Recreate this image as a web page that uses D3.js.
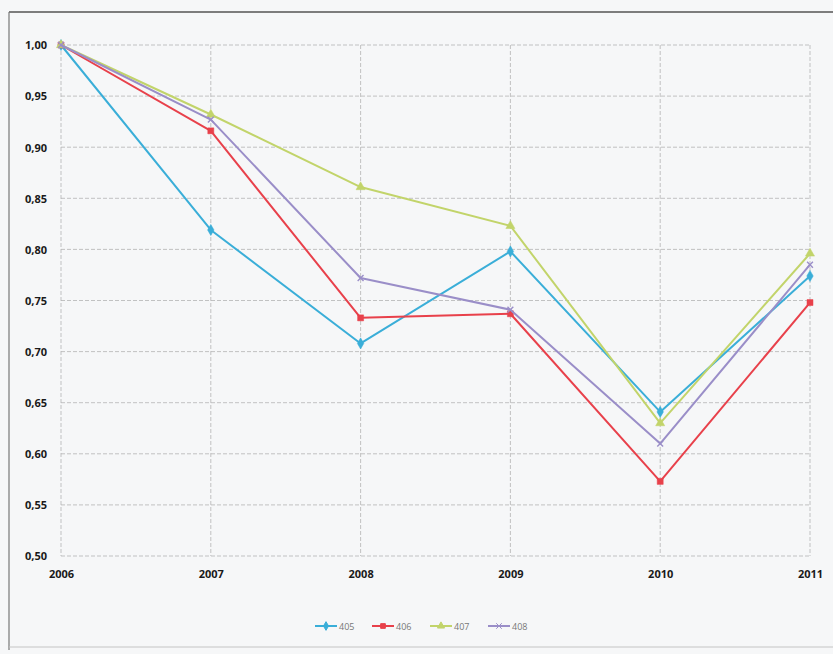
<!DOCTYPE html>
<html>
<head>
<meta charset="utf-8">
<script src="https://cdn.jsdelivr.net/npm/d3@7"></script>
<style>
  html, body { margin: 0; padding: 0; background: #f6f7f8; }
  svg { display: block; }
  .tick-label { font-family: "Open Sans", "DejaVu Sans", sans-serif; font-weight: 700; font-size: 11px; fill: #1a1a1a; }
  .legend-label { font-family: "Open Sans", "DejaVu Sans", sans-serif; font-size: 9px; fill: #777; }
</style>
</head>
<body>
<svg id="chart" width="833" height="654"></svg>
<script>
// Years along the x axis
const years = [2006, 2007, 2008, 2009, 2010, 2011];
// Y axis tick values and their labels (comma decimal)
const yTicks = [0.50, 0.55, 0.60, 0.65, 0.70, 0.75, 0.80, 0.85, 0.90, 0.95, 1.00];
const yTickLabels = ["0,50", "0,55", "0,60", "0,65", "0,70", "0,75", "0,80", "0,85", "0,90", "0,95", "1,00"];

// Series names and indexed values (2006 = 1)
const seriesNames = ["405", "406", "407", "408"];
const s405 = [1.000, 0.819, 0.708, 0.798, 0.641, 0.774];
const s406 = [1.000, 0.916, 0.733, 0.737, 0.573, 0.748];
const s407 = [1.000, 0.932, 0.861, 0.823, 0.630, 0.796];
const s408 = [1.000, 0.927, 0.772, 0.741, 0.610, 0.785];

const seriesColors = ["#3aaed8", "#e8414b", "#c2d46a", "#9a8ec8"];
const seriesShapes = [d3.symbolDiamond, d3.symbolSquare, d3.symbolTriangle, d3.symbolX];

const series = [s405, s406, s407, s408].map((vals, i) => ({
  name: seriesNames[i],
  color: seriesColors[i],
  shape: seriesShapes[i],
  points: years.map((y, j) => ({ year: y, value: vals[j] }))
}));

const svg = d3.select("#chart");

// Outer frame of the chart
svg.append("line").attr("x1", 9).attr("x2", 833).attr("y1", 12).attr("y2", 12)
  .attr("stroke", "#555").attr("stroke-width", 1.5);
svg.append("line").attr("x1", 9).attr("x2", 9).attr("y1", 12).attr("y2", 650)
  .attr("stroke", "#777").attr("stroke-width", 1.2);
svg.append("line").attr("x1", 9).attr("x2", 833).attr("y1", 647).attr("y2", 647)
  .attr("stroke", "#c4c4c4").attr("stroke-width", 1);

const x = d3.scaleLinear().domain([2006, 2011]).range([61, 810]);
const y = d3.scaleLinear().domain([0.5, 1.0]).range([556, 45]);

// Gridlines
const grid = svg.append("g");
grid.selectAll("line.h").data(yTicks).join("line")
  .attr("class", "h")
  .attr("x1", x(2006)).attr("x2", x(2011))
  .attr("y1", d => y(d)).attr("y2", d => y(d))
  .attr("stroke", "#b4b4b4").attr("stroke-width", 0.8)
  .attr("stroke-dasharray", "4,2");
grid.selectAll("line.v").data(years).join("line")
  .attr("class", "v")
  .attr("x1", d => x(d)).attr("x2", d => x(d))
  .attr("y1", y(1.0)).attr("y2", y(0.5))
  .attr("stroke", "#b4b4b4").attr("stroke-width", 0.8)
  .attr("stroke-dasharray", "4,2");

// Y axis labels
const yAxis = d3.axisLeft(y).tickValues(yTicks)
  .tickFormat((d, i) => yTickLabels[i]).tickSize(0).tickPadding(14);
const yG = svg.append("g").attr("transform", `translate(${x(2006)},0)`).call(yAxis);
yG.select(".domain").remove();
yG.selectAll("text").attr("class", "tick-label").attr("dy", "0.35em");

// X axis labels
const xAxis = d3.axisBottom(x).tickValues(years).tickFormat(d3.format("d"))
  .tickSize(0).tickPadding(14);
const xG = svg.append("g").attr("transform", `translate(0,${y(0.5)})`).call(xAxis);
xG.select(".domain").remove();
xG.selectAll("text").attr("class", "tick-label");

// Lines and markers
const line = d3.line().x(d => x(d.year)).y(d => y(d.value));
const sg = svg.append("g").selectAll("g").data(series).join("g");
sg.append("path")
  .attr("d", d => line(d.points))
  .attr("fill", "none")
  .attr("stroke", d => d.color)
  .attr("stroke-width", 2)
  .attr("stroke-linejoin", "round");
sg.each(function(s) {
  d3.select(this).selectAll("path.m").data(s.points).join("path")
    .attr("class", "m")
    .attr("transform", d => `translate(${x(d.year)},${y(d.value)})`)
    .attr("d", d3.symbol().type(s.shape).size(s.shape === d3.symbolX ? 24 : 36))
    .attr("fill", s.shape === d3.symbolX ? "none" : s.color)
    .attr("stroke", s.color)
    .attr("stroke-width", s.shape === d3.symbolX ? 1.4 : 0.5);
});

// Legend
const legendX = [315, 372, 430, 488];
const lg = svg.append("g").selectAll("g").data(series).join("g")
  .attr("transform", (d, i) => `translate(${legendX[i]},626)`);
lg.append("line").attr("x1", 0).attr("x2", 22).attr("y1", 0).attr("y2", 0)
  .attr("stroke", d => d.color).attr("stroke-width", 2);
lg.append("path").attr("transform", "translate(11,0)")
  .attr("d", d => d3.symbol().type(d.shape).size(22)())
  .attr("fill", d => d.shape === d3.symbolX ? "none" : d.color)
  .attr("stroke", d => d.color).attr("stroke-width", 1);
lg.append("text").attr("class", "legend-label")
  .attr("x", 24).attr("y", 3.5).text(d => d.name);
</script>
</body>
</html>
